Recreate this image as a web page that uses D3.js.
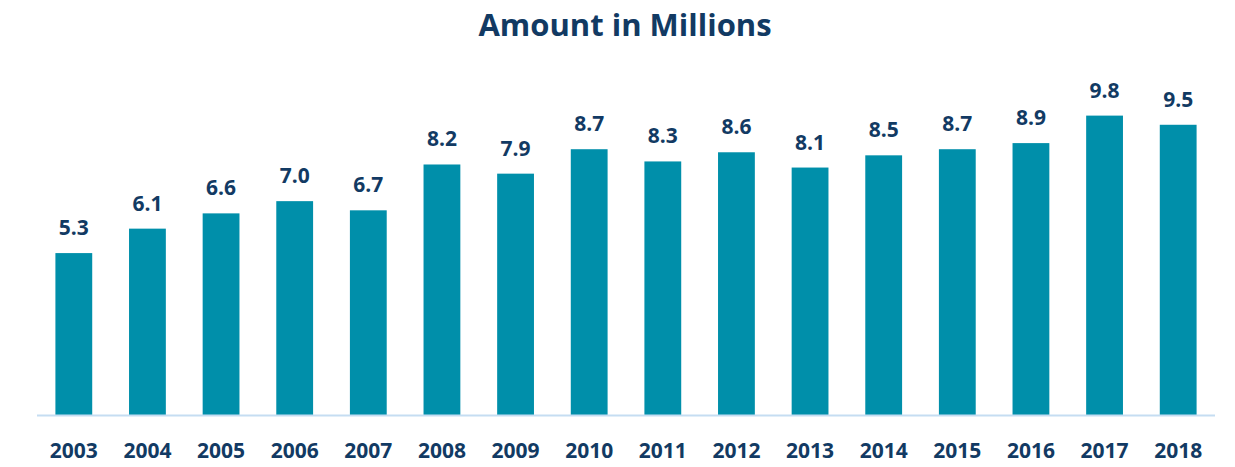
<!DOCTYPE html>
<html><head><meta charset="utf-8">
<script src="https://cdn.jsdelivr.net/npm/d3@7"></script>
<style>body{margin:0;background:#fff}svg{display:block}</style>
</head><body>
<svg id="chart" width="1235" height="467"></svg>
<script>
const years = ["2003","2004","2005","2006","2007","2008","2009","2010","2011","2012","2013","2014","2015","2016","2017","2018"];
const amounts = [5.3,6.1,6.6,7.0,6.7,8.2,7.9,8.7,8.3,8.6,8.1,8.5,8.7,8.9,9.8,9.5];
const titleText = "Amount in Millions";

const svg = d3.select("#chart");
const navy = "#123A63";
const x = d3.scaleBand().domain(years).range([37,1215]).paddingInner(0.5).paddingOuter(0.25);
const y = d3.scaleLinear().domain([0,10]).range([415,109.5]);

svg.append("text").attr("x",625).attr("y",36).attr("text-anchor","middle")
  .attr("font-family","Open Sans").attr("font-weight","bold").attr("font-size",31)
  .attr("fill",navy).text(titleText);

svg.selectAll("rect.bar").data(years).join("rect").attr("class","bar")
  .attr("x",d=>x(d)).attr("width",x.bandwidth())
  .attr("y",(d,i)=>y(amounts[i])).attr("height",(d,i)=>y(0)-y(amounts[i]))
  .attr("fill","#008FAA");

svg.append("line").attr("x1",37).attr("x2",1215).attr("y1",y(0)+0.5).attr("y2",y(0)+0.5)
  .attr("stroke","#C5DDF2").attr("stroke-width",2);

svg.selectAll("text.val").data(years).join("text").attr("class","val")
  .attr("x",d=>x(d)+x.bandwidth()/2).attr("y",(d,i)=>y(amounts[i])-18)
  .attr("text-anchor","middle").attr("font-family","Open Sans").attr("font-weight","bold")
  .attr("font-size",21).attr("fill",navy).text((d,i)=>amounts[i].toFixed(1));

const xAxis = svg.append("g").attr("transform",`translate(0,${y(0)})`)
  .call(d3.axisBottom(x).tickSize(0).tickPadding(0));
xAxis.select(".domain").remove();
xAxis.selectAll("text").attr("dy",null).attr("y",43)
  .attr("font-family","Open Sans").attr("font-weight","bold").attr("font-size",21).attr("fill",navy);
</script>
</body></html>
